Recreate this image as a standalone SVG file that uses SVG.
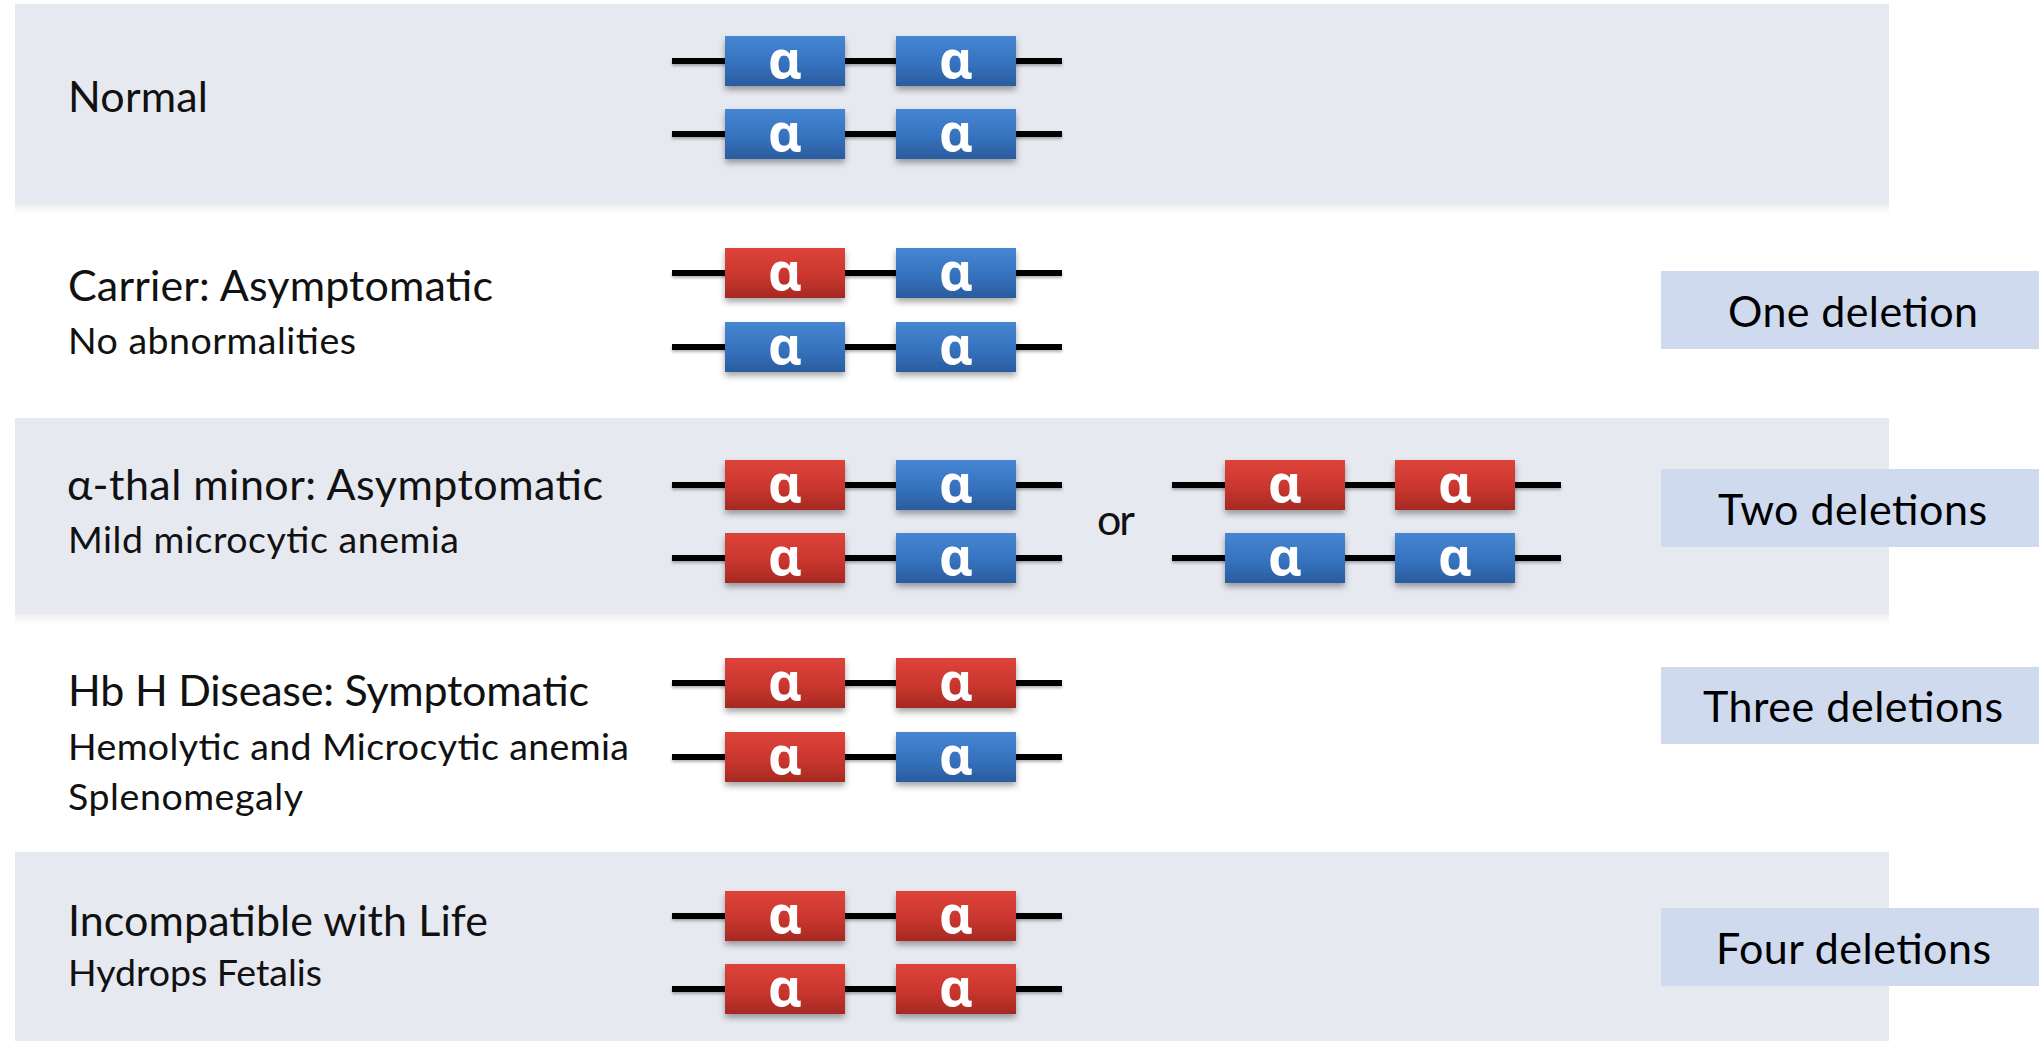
<svg xmlns="http://www.w3.org/2000/svg" width="2039" height="1045" viewBox="0 0 2039 1045">
  <defs>
    <style>
      .band { fill: #e7e9f1; }
      .band-shade { fill: url(#bandShade); }
      .tag { fill: #cfdaef; }
      .main { font-family: Lato, "Open Sans", "Liberation Sans", sans-serif; font-size: 43px; fill: #111; }
      .sub { font-family: Lato, "Open Sans", "Liberation Sans", sans-serif; font-size: 37.5px; fill: #111; }
      .tagtext { font-family: Lato, "Open Sans", "Liberation Sans", sans-serif; font-size: 43px; fill: #000; }
      .chrom { stroke: #050505; stroke-width: 6; fill: none; }
      .chroms { filter: url(#lineShadow); }
      .gene { filter: url(#geneShadow); }
      .blue { fill: url(#gBlue); }
      .red { fill: url(#gRed); }
      .alpha { font-family: "Noto Sans", "Open Sans", "DejaVu Sans", sans-serif; font-weight: bold; font-size: 52px; fill: #fff; text-anchor: middle; }
    </style>
    <linearGradient id="gBlue" x1="0" y1="0" x2="0" y2="1">
      <stop offset="0" stop-color="#4686d2"/>
      <stop offset="0.55" stop-color="#3672be"/>
      <stop offset="1" stop-color="#2a5c9e"/>
    </linearGradient>
    <linearGradient id="gRed" x1="0" y1="0" x2="0" y2="1">
      <stop offset="0" stop-color="#de433a"/>
      <stop offset="0.55" stop-color="#c9362e"/>
      <stop offset="1" stop-color="#a52a23"/>
    </linearGradient>
    <linearGradient id="bandShade" x1="0" y1="0" x2="0" y2="1">
      <stop offset="0" stop-color="#000" stop-opacity="0.06"/>
      <stop offset="1" stop-color="#000" stop-opacity="0"/>
    </linearGradient>
    <filter id="geneShadow" x="-15%" y="-30%" width="130%" height="170%">
      <feDropShadow dx="0" dy="4" stdDeviation="3" flood-color="#000" flood-opacity="0.35"/>
    </filter>
    <filter id="lineShadow" filterUnits="userSpaceOnUse" x="0" y="0" width="2039" height="1045">
      <feDropShadow dx="0" dy="2" stdDeviation="1.5" flood-color="#000" flood-opacity="0.3"/>
    </filter>
  </defs>

  <rect width="2039" height="1045" fill="#fff"/>

  <!-- shaded row bands -->
  <g id="bands">
    <rect class="band" x="15" y="4" width="1874" height="201"/>
    <rect class="band-shade" x="15" y="205" width="1874" height="9"/>
    <rect class="band" x="15" y="418" width="1874" height="196"/>
    <rect class="band-shade" x="15" y="614" width="1874" height="10"/>
    <rect class="band" x="15" y="852" width="1874" height="189"/>
  </g>

  <!-- chromosome lines carrying the alpha genes -->
  <g id="connectors" class="chroms">
    <line class="chrom" x1="672" y1="61" x2="1062" y2="61"/>
    <line class="chrom" x1="672" y1="134" x2="1062" y2="134"/>
    <line class="chrom" x1="672" y1="273" x2="1062" y2="273"/>
    <line class="chrom" x1="672" y1="347" x2="1062" y2="347"/>
    <line class="chrom" x1="672" y1="485" x2="1062" y2="485"/>
    <line class="chrom" x1="672" y1="558" x2="1062" y2="558"/>
    <line class="chrom" x1="1172" y1="485" x2="1561" y2="485"/>
    <line class="chrom" x1="1172" y1="558" x2="1561" y2="558"/>
    <line class="chrom" x1="672" y1="683" x2="1062" y2="683"/>
    <line class="chrom" x1="672" y1="757" x2="1062" y2="757"/>
    <line class="chrom" x1="672" y1="916" x2="1062" y2="916"/>
    <line class="chrom" x1="672" y1="989" x2="1062" y2="989"/>
  </g>

  <!-- Row 1: normal -->
  <g id="row-normal">
    <text class="main" x="68" y="112" textLength="140">Normal</text>
    <g class="gene"><rect class="blue" x="725" y="36" width="120" height="50"/><rect class="blue" x="896" y="36" width="120" height="50"/><rect class="blue" x="725" y="109" width="120" height="50"/><rect class="blue" x="896" y="109" width="120" height="50"/></g>
    <text class="alpha" x="785" y="78">α</text><text class="alpha" x="956" y="78">α</text>
    <text class="alpha" x="785" y="151">α</text><text class="alpha" x="956" y="151">α</text>
  </g>

  <!-- Row 2: one deletion -->
  <g id="row-carrier">
    <text class="main" x="68" y="301" textLength="425">Carrier: Asymptomatic</text>
    <text class="sub" x="68" y="354" textLength="288">No abnormalities</text>
    <g class="gene"><rect class="red" x="725" y="248" width="120" height="50"/><rect class="blue" x="896" y="248" width="120" height="50"/><rect class="blue" x="725" y="322" width="120" height="50"/><rect class="blue" x="896" y="322" width="120" height="50"/></g>
    <text class="alpha" x="785" y="290">α</text><text class="alpha" x="956" y="290">α</text>
    <text class="alpha" x="785" y="364">α</text><text class="alpha" x="956" y="364">α</text>
  </g>
  <g id="tag-one">
    <rect class="tag" x="1661" y="271" width="378" height="78"/>
    <text class="tagtext" x="1728" y="327" textLength="250">One deletion</text>
  </g>

  <!-- Row 3: two deletions -->
  <g id="row-minor">
    <text class="main" x="67" y="500" textLength="536">α-thal minor: Asymptomatic</text>
    <text class="sub" x="68" y="553" textLength="391">Mild microcytic anemia</text>
    <g class="gene"><rect class="red" x="725" y="460" width="120" height="50"/><rect class="blue" x="896" y="460" width="120" height="50"/><rect class="red" x="725" y="533" width="120" height="50"/><rect class="blue" x="896" y="533" width="120" height="50"/></g>
    <text class="alpha" x="785" y="502">α</text><text class="alpha" x="956" y="502">α</text>
    <text class="alpha" x="785" y="575">α</text><text class="alpha" x="956" y="575">α</text>
    <text class="main" x="1097" y="535" textLength="38">or</text>
    <g class="gene"><rect class="red" x="1225" y="460" width="120" height="50"/><rect class="red" x="1395" y="460" width="120" height="50"/><rect class="blue" x="1225" y="533" width="120" height="50"/><rect class="blue" x="1395" y="533" width="120" height="50"/></g>
    <text class="alpha" x="1285" y="502">α</text><text class="alpha" x="1455" y="502">α</text>
    <text class="alpha" x="1285" y="575">α</text><text class="alpha" x="1455" y="575">α</text>
  </g>
  <g id="tag-two">
    <rect class="tag" x="1661" y="469" width="378" height="78"/>
    <text class="tagtext" x="1718" y="525" textLength="269">Two deletions</text>
  </g>

  <!-- Row 4: three deletions -->
  <g id="row-hbh">
    <text class="main" x="68" y="706" textLength="521">Hb H Disease: Symptomatic</text>
    <text class="sub" x="68" y="760" textLength="561">Hemolytic and Microcytic anemia</text>
    <text class="sub" x="68" y="810" textLength="235">Splenomegaly</text>
    <g class="gene"><rect class="red" x="725" y="658" width="120" height="50"/><rect class="red" x="896" y="658" width="120" height="50"/><rect class="red" x="725" y="732" width="120" height="50"/><rect class="blue" x="896" y="732" width="120" height="50"/></g>
    <text class="alpha" x="785" y="700">α</text><text class="alpha" x="956" y="700">α</text>
    <text class="alpha" x="785" y="774">α</text><text class="alpha" x="956" y="774">α</text>
  </g>
  <g id="tag-three">
    <rect class="tag" x="1661" y="667" width="378" height="77"/>
    <text class="tagtext" x="1703" y="722" textLength="300">Three deletions</text>
  </g>

  <!-- Row 5: four deletions -->
  <g id="row-hydrops">
    <text class="main" x="68" y="936" textLength="420">Incompatible with Life</text>
    <text class="sub" x="68" y="986" textLength="254">Hydrops Fetalis</text>
    <g class="gene"><rect class="red" x="725" y="891" width="120" height="50"/><rect class="red" x="896" y="891" width="120" height="50"/><rect class="red" x="725" y="964" width="120" height="50"/><rect class="red" x="896" y="964" width="120" height="50"/></g>
    <text class="alpha" x="785" y="933">α</text><text class="alpha" x="956" y="933">α</text>
    <text class="alpha" x="785" y="1006">α</text><text class="alpha" x="956" y="1006">α</text>
  </g>
  <g id="tag-four">
    <rect class="tag" x="1661" y="908" width="378" height="78"/>
    <text class="tagtext" x="1716" y="964" textLength="275">Four deletions</text>
  </g>
</svg>
